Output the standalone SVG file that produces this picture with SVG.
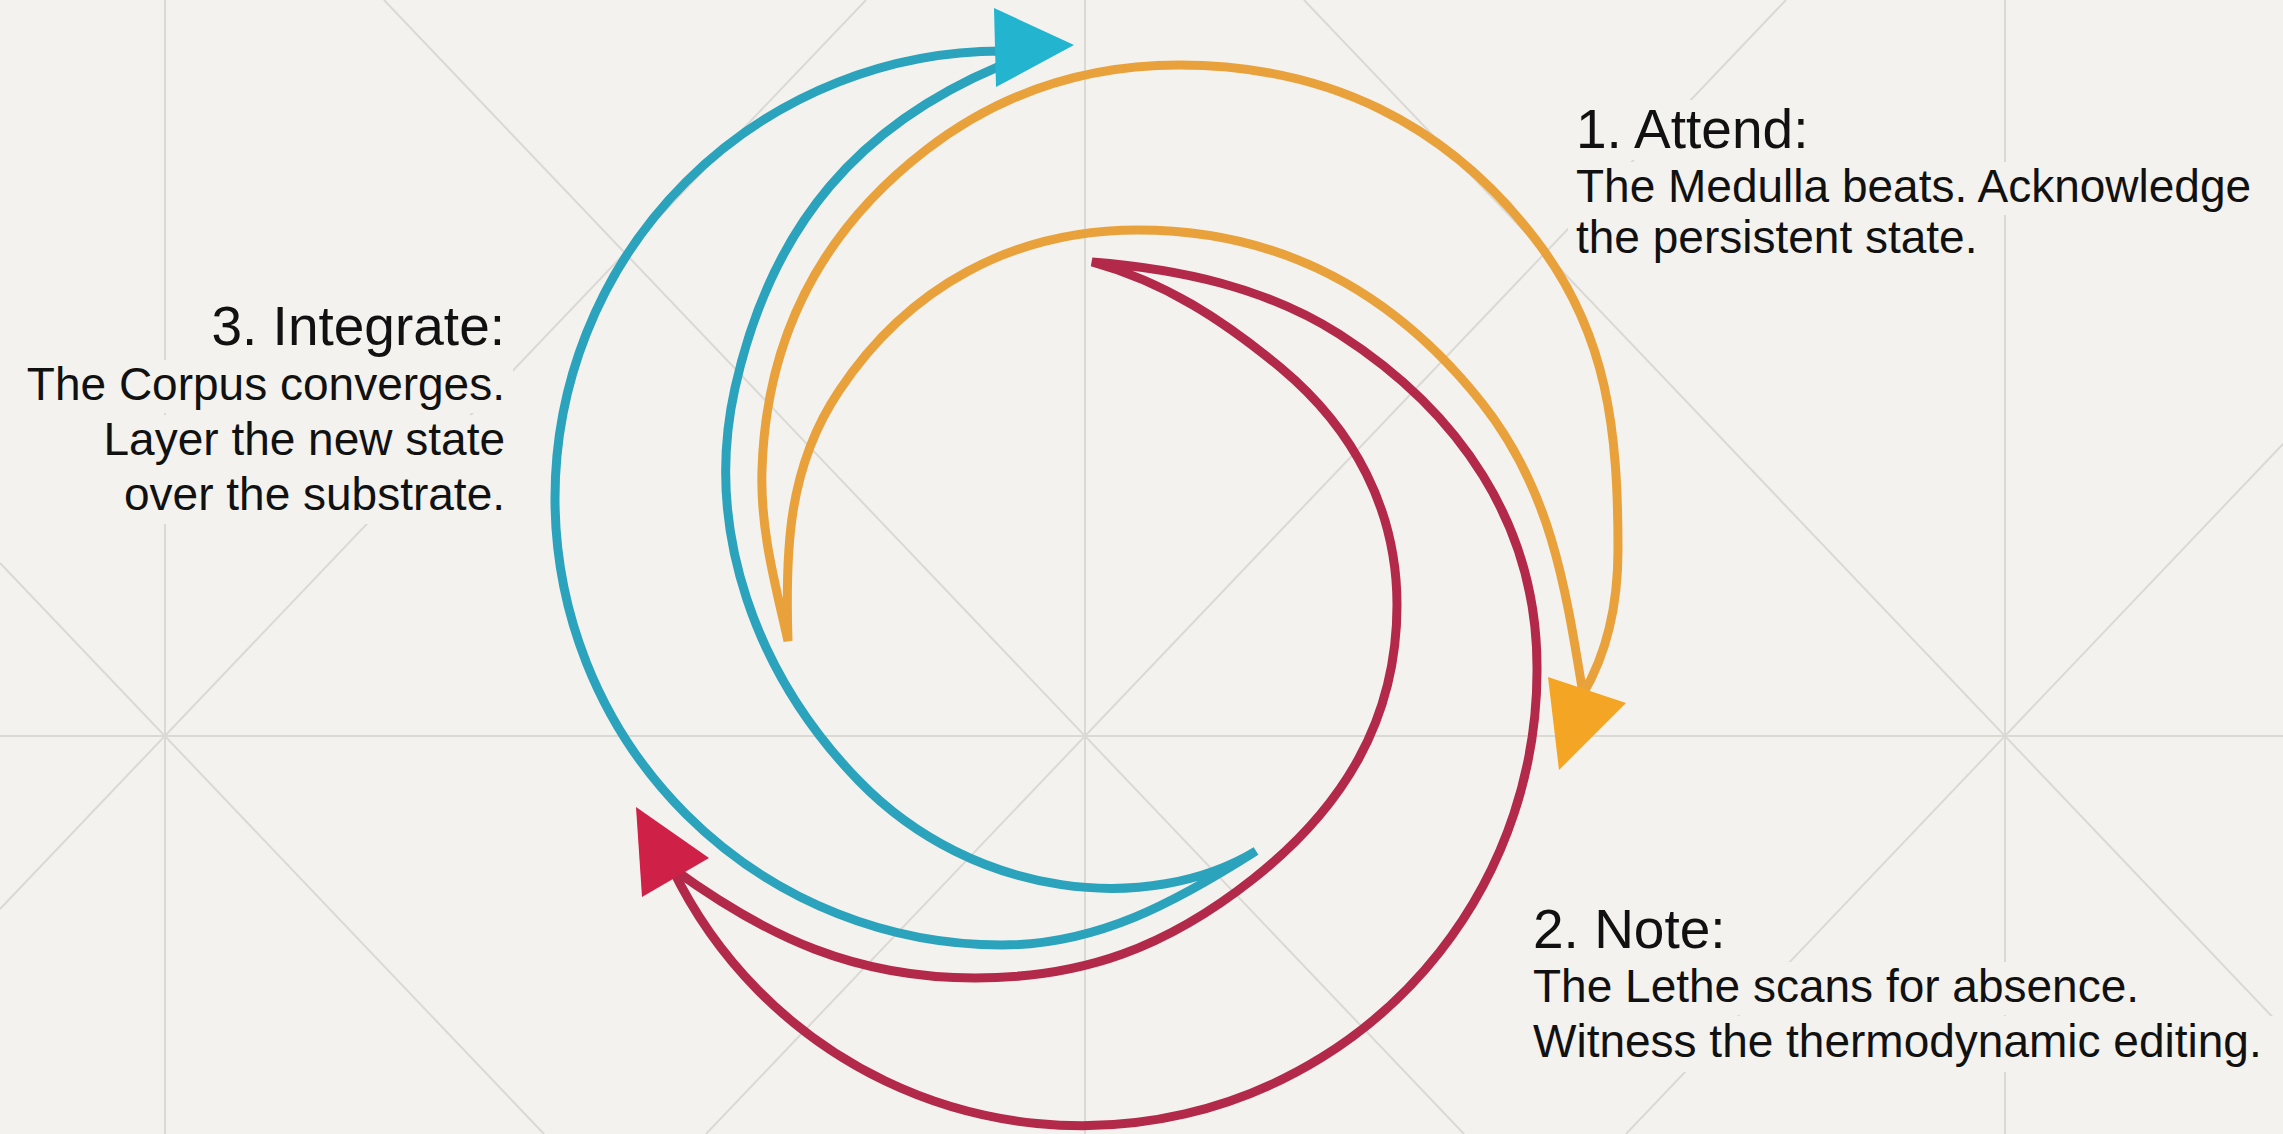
<svg xmlns="http://www.w3.org/2000/svg" width="2283" height="1134" viewBox="0 0 2283 1134">
  <defs>
    <style>
      .bg { fill: #F3F2EE; }
      .grid { stroke: #DAD9D4; stroke-width: 2; fill: none; }
      .mask { fill: #F3F2EE; }
      .title { font-family: "Liberation Sans", Arial, sans-serif; font-size: 55px; fill: #111111; }
      .body { font-family: "Liberation Sans", Arial, sans-serif; font-size: 46px; fill: #111111; }
      .crescent { fill: none; stroke-width: 9; stroke-linejoin: miter; stroke-miterlimit: 4; }
      .orange { stroke: #E9A23B; }
      .cyan { stroke: #2BA3BC; }
      .red { stroke: #B3294A; }
      .head-orange { fill: #F5A524; }
      .head-cyan { fill: #23B4D0; }
      .head-red { fill: #CF2148; }
    </style>
  </defs>

  <rect class="bg" x="0" y="0" width="2283" height="1134"/>

  <g id="grid">
    <line class="grid" x1="165" y1="0" x2="165" y2="1134"/>
    <line class="grid" x1="1085" y1="0" x2="1085" y2="1134"/>
    <line class="grid" x1="2005" y1="0" x2="2005" y2="1134"/>
    <line class="grid" x1="0" y1="736" x2="2283" y2="736"/>
    <line class="grid" x1="0" y1="909" x2="866" y2="0"/>
    <line class="grid" x1="0" y1="563" x2="544" y2="1134"/>
    <line class="grid" x1="706" y1="1134" x2="1786" y2="0"/>
    <line class="grid" x1="384" y1="0" x2="1464" y2="1134"/>
    <line class="grid" x1="1626" y1="1134" x2="2283" y2="444"/>
    <line class="grid" x1="1304" y1="0" x2="2283" y2="1028"/>
  </g>

  <g id="connectors">
    <g id="arrow-attend">
      <path class="crescent orange" d="M 788 641 C 785 549 788 467 839 391 C 908 287 1013 230 1138 230 C 1280 230 1394 292 1482 403 C 1550 489 1565 583 1583 694 C 1608.5 650.5 1618 600 1618 550 C 1618 431 1608 334 1536 240 C 1447 123 1326 65 1179 65 C 1086 65 1000 93 926 150 C 821 231 766 337 762 470 C 760 529 775 583 788 641 Z"/>
      <polygon class="head-orange" points="1548,677 1626,703 1559,770"/>
    </g>
    <g id="arrow-integrate">
      <path class="crescent cyan" d="M 1256 851 C 1150 915 975 900 859 781 C 757 676 703 531 735 388 C 772 222 862 124 1000 66 L 1003 51 A 447 447 0 0 0 555 498 A 447 447 0 0 0 1002 945 C 1097 945 1175 902.6 1256 851 Z"/>
      <polygon class="head-cyan" points="994,8 1074,45 996,87"/>
    </g>
    <g id="arrow-note">
      <path class="crescent red" d="M 1092 262 C 1165 282 1223 320 1281 368 C 1354 429 1397 510 1397 605 C 1397 720 1343 808 1253 879 C 1167 947 1084 978 975 978 C 856 978 768 938 672 868 A 455 455 0 0 0 1537 667 C 1537 524 1459 411 1339 334 C 1265 287 1179 269 1092 262 Z"/>
      <polygon class="head-red" points="636,807 709,858 642,897"/>
    </g>
  </g>

  <g id="step-attend">
    <rect class="mask" x="1568" y="100" width="250" height="60"/>
    <rect class="mask" x="1568" y="162" width="692" height="53"/>
    <rect class="mask" x="1568" y="215" width="420" height="52"/>
    <text class="title" x="1576" y="148">1. Attend:</text>
    <text class="body" x="1576" y="202">The Medulla beats. Acknowledge</text>
    <text class="body" x="1576" y="253">the persistent state.</text>
  </g>

  <g id="step-note">
    <rect class="mask" x="1525" y="898" width="212" height="62"/>
    <rect class="mask" x="1525" y="962" width="598" height="53"/>
    <rect class="mask" x="1525" y="1016" width="758" height="56"/>
    <text class="title" x="1533" y="948">2. Note:</text>
    <text class="body" x="1533" y="1002">The Lethe scans for absence.</text>
    <text class="body" x="1533" y="1057">Witness the thermodynamic editing.</text>
  </g>

  <g id="step-integrate">
    <rect class="mask" x="203" y="298" width="310" height="60"/>
    <rect class="mask" x="20" y="360" width="493" height="53"/>
    <rect class="mask" x="98" y="415" width="415" height="53"/>
    <rect class="mask" x="118" y="468" width="395" height="56"/>
    <text class="title" x="505" y="345" text-anchor="end">3. Integrate:</text>
    <text class="body" x="505" y="400" text-anchor="end">The Corpus converges.</text>
    <text class="body" x="505" y="455" text-anchor="end">Layer the new state</text>
    <text class="body" x="505" y="510" text-anchor="end">over the substrate.</text>
  </g>
</svg>
